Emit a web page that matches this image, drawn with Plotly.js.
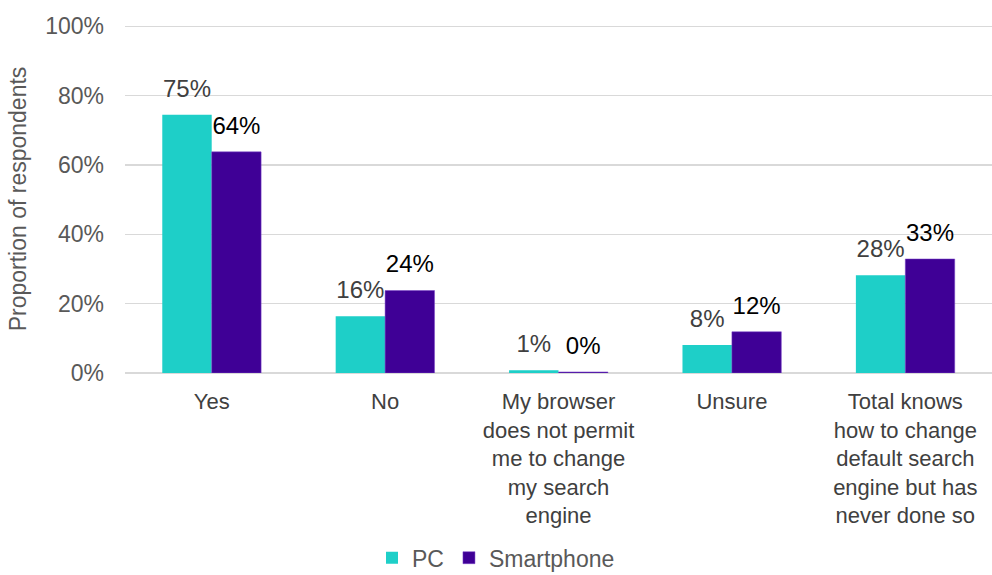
<!DOCTYPE html>
<html>
<head>
<meta charset="utf-8">
<script src="https://cdn.plot.ly/plotly-3.0.1.min.js"></script>
<style>html,body{margin:0;padding:0;background:#fff;}#chart{width:992px;height:575px;}</style>
</head>
<body>
<div id="chart"></div>
<script>
const categories = ["Yes", "No", "My browser<br>does not permit<br>me to change<br>my search<br>engine", "Unsure", "Total knows<br>how to change<br>default search<br>engine but has<br>never done so"];
const pcValues = [74.5, 16.4, 0.8, 8.1, 28.2];
const pcLabels = ["75%", "16%", "1%", "8%", "28%"];
const phoneValues = [63.8, 23.8, 0.3, 11.9, 32.9];
const phoneLabels = ["64%", "24%", "0%", "12%", "33%"];
const yTickVals = [0, 20, 40, 60, 80, 100];
const yTickText = ["0%", "20%", "40%", "60%", "80%", "100%"];

const FONT = "'Liberation Sans', Arial, sans-serif";
const PC_COLOR = "#1ECFC8";
const PHONE_COLOR = "#3F0096";

const traces = [
  {type: "bar", name: "PC", x: categories, y: pcValues, offsetgroup: "pc",
   marker: {color: PC_COLOR}, hoverinfo: "none"},
  {type: "bar", name: "Smartphone", x: categories, y: phoneValues, offsetgroup: "phone",
   marker: {color: PHONE_COLOR, line: {color: "#7a45c8", width: 0.5}}, hoverinfo: "none"},
  {type: "scatter", mode: "markers+text", x: categories, y: pcValues, text: pcLabels, offsetgroup: "pc",
   textposition: "top center", textfont: {family: FONT, size: 24, color: "#404040"},
   marker: {size: 18, color: "rgba(0,0,0,0)"}, showlegend: false, hoverinfo: "none", cliponaxis: false},
  {type: "scatter", mode: "markers+text", x: categories, y: phoneValues, text: phoneLabels, offsetgroup: "phone",
   textposition: "top center", textfont: {family: FONT, size: 24, color: "#000000"},
   marker: {size: 18, color: "rgba(0,0,0,0)"}, showlegend: false, hoverinfo: "none", cliponaxis: false}
];

const layout = {
  width: 992, height: 575,
  margin: {l: 125, r: 0, t: 25, b: 202},
  paper_bgcolor: "#fff", plot_bgcolor: "#fff",
  font: {family: FONT, size: 23, color: "#595959"},
  barmode: "group", bargap: 0.43, bargroupgap: 0,
  scattermode: "group", scattergap: 0.43,
  showlegend: true,
  legend: {orientation: "h", x: 0.5, xanchor: "center", xref: "container", yref: "container", y: 0.03, yanchor: "middle",
           font: {family: FONT, size: 23, color: "#595959"}, itemwidth: 30, tracegroupgap: 0},
  xaxis: {type: "category", tickfont: {family: FONT, size: 22, color: "#404040"}, showline: false, ticks: "", showgrid: false,
          automargin: false, ticklabelstandoff: 13},
  yaxis: {range: [0, 100.4], tickvals: yTickVals, ticktext: yTickText, showgrid: true, gridcolor: "#d9d9d9", gridwidth: 1.5,
          zeroline: true, zerolinecolor: "#d9d9d9", zerolinewidth: 1.5, ticks: "", ticklen: 0, automargin: false,
          ticklabelstandoff: 20,
          tickfont: {family: FONT, size: 23, color: "#595959"},
          title: {text: "Proportion of respondents", font: {family: FONT, size: 23, color: "#595959"}, standoff: 12}}
};

Plotly.newPlot("chart", traces, layout, {displayModeBar: false, staticPlot: true});
</script>
</body>
</html>
